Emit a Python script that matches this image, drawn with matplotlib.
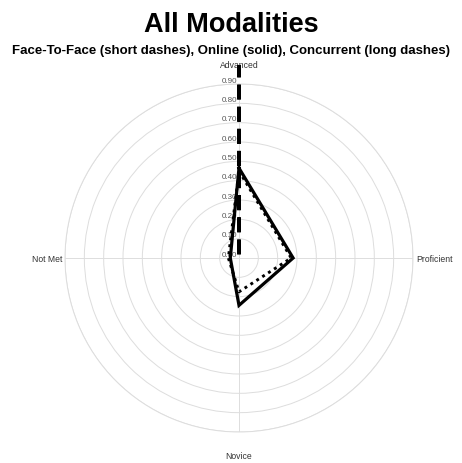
import numpy as np
import matplotlib
matplotlib.use("Agg")
import matplotlib.pyplot as plt

plt.rcParams['font.family'] = ['Liberation Sans', 'DejaVu Sans']

categories = ["Advanced", "Proficient", "Novice", "Not Met"]
face_to_face = [0.45, 0.27, 0.175, 0.055]
online = [0.465, 0.28, 0.245, 0.045]
concurrent = [1.0, 0.0, 0.0, 0.0]
rticks = [0.0, 0.1, 0.2, 0.3, 0.4, 0.5, 0.6, 0.7, 0.8, 0.9]
rtick_labels = ["0.00", "0.10", "0.20", "0.30", "0.40", "0.50", "0.60", "0.70", "0.80", "0.90"]

W, H, DPI = 4.62, 4.64, 100
fig = plt.figure(figsize=(W, H), dpi=DPI)
ax_rect = [0.1407, 0.0668, 0.7532, 0.75]
ax = fig.add_axes(ax_rect, projection='polar')
ax.set_theta_offset(np.pi / 2)
ax.set_theta_direction(-1)

n = len(categories)
angles = np.linspace(0, 2 * np.pi, n, endpoint=False)
closed = np.concatenate([angles, angles[:1]])

def close(v):
    return list(v) + [v[0]]

grid_color = "#dddddd"
rmax = 0.9
ax.set_ylim(0, rmax)
ax.set_yticks(rticks[1:])
ax.set_yticklabels([])
ax.set_xticks(angles)
ax.set_xticklabels([])
ax.grid(True, color=grid_color, linewidth=0.7)
ax.spines['polar'].set_color(grid_color)
ax.spines['polar'].set_linewidth(0.7)
ax.set_facecolor('white')

# radial labels along the Advanced axis
for r, lab in zip(rticks, rtick_labels):
    ax.annotate(lab, xy=(0, r), xytext=(-1.5, 0.3), textcoords='offset points',
                ha='right', va='bottom', fontsize=5.8, color='#555555',
                annotation_clip=False, zorder=1)

# category labels
ax.annotate(categories[0], xy=(0, rmax), xytext=(0, 11), textcoords='offset points',
            ha='center', va='bottom', fontsize=6.2, color='#333333', annotation_clip=False)
ax.annotate(categories[1], xy=(angles[1], rmax), xytext=(2, 0), textcoords='offset points',
            ha='left', va='center', fontsize=6.2, color='#333333', annotation_clip=False)
ax.annotate(categories[2], xy=(angles[2], rmax), xytext=(0, -14), textcoords='offset points',
            ha='center', va='top', fontsize=6.2, color='#333333', annotation_clip=False)
ax.annotate(categories[3], xy=(angles[3], rmax), xytext=(-2, 0), textcoords='offset points',
            ha='right', va='center', fontsize=6.2, color='#333333', annotation_clip=False)

ax.plot(closed, close(online), color='black', linewidth=2.3, solid_joinstyle='miter',
        clip_on=False, zorder=5)
ax.plot(closed, close(face_to_face), color='black', linewidth=2.1, dashes=(1, 1.4),
        dash_capstyle='butt', clip_on=False, zorder=5)

# long dashes: choose the dash phase so the out-and-back strokes coincide
lw_c = 2.7
on_u, off_u = 3.9, 2.0
radius_pt = ax_rect[3] * H * 72 / 2 / rmax  # points per unit of r
L = max(concurrent) * radius_pt
P = (on_u + off_u) * lw_c
d = on_u * lw_c
two_o = (d - 2 * L) % P
offset_u = (two_o / 2) / lw_c
ax.plot(closed, close(concurrent), color='black', linewidth=lw_c,
        linestyle=(offset_u, (on_u, off_u)), dash_capstyle='butt',
        clip_on=False, zorder=5)

fig.text(0.5, 1 - 32 / 464, "All Modalities", ha='center', va='baseline',
         fontsize=19.5, fontweight='bold', color='black')
fig.text(0.5, 1 - 54 / 464, "Face-To-Face (short dashes), Online (solid), Concurrent (long dashes)",
         ha='center', va='baseline', fontsize=9.5, fontweight='bold', color='black')

fig.savefig("out.png", dpi=DPI, facecolor='white')
